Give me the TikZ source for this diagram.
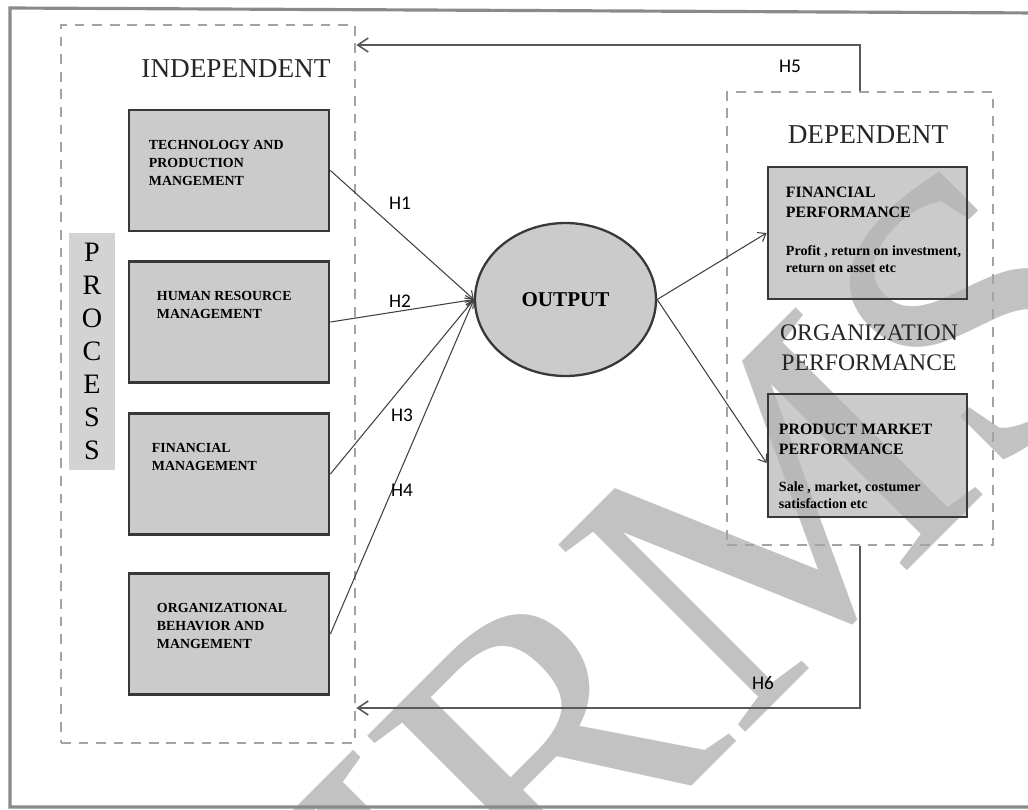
\documentclass[tikz,border=0pt]{standalone}
\usepackage{fontspec}
\setmainfont{Liberation Serif}
\newfontfamily\hfont{Carlito}
\usetikzlibrary{calc,fit,shapes.geometric,arrows.meta}

\definecolor{boxgray}{HTML}{B5B5B5}
\definecolor{edgegray}{HTML}{383838}
\definecolor{dashgray}{HTML}{A3A3A3}
\definecolor{markgray}{HTML}{C2C2C2}
\definecolor{framegray}{HTML}{8A8A8A}

\begin{document}
\begin{tikzpicture}[x=0.02cm, y=-0.02cm,
  dashbox/.style={draw=dashgray, line width=1.5pt, dash pattern=on 5.5pt off 4.5pt, inner sep=0pt},
  pbox/.style={draw=edgegray, line width=1.6pt, fill=boxgray, fill opacity=0.7, minimum width=4cm, minimum height=2.42cm, inner sep=0pt},
  rbox/.style={pbox, minimum width=3.98cm},
  ptext/.style={anchor=north west, align=left, inner sep=0pt, font=\bfseries\fontsize{7.9}{10.3}\selectfont},
  rtext/.style={anchor=north west, align=left, inner sep=0pt, font=\bfseries\fontsize{9}{11.4}\selectfont},
  dtext/.style={anchor=north west, align=left, inner sep=0pt, font=\bfseries\fontsize{8}{9.7}\selectfont},
  head/.style={align=center, inner sep=0pt, font=\fontsize{15.5}{17}\selectfont, text=black!85},
  hlab/.style={inner sep=0pt, font=\hfont\fontsize{11}{12}\selectfont},
  link/.style={draw=black!75, line width=0.6pt, -{Straight Barb[length=4pt,width=6pt]}},
  back/.style={draw=black!65, line width=0.9pt, -{Straight Barb[length=6pt,width=8pt]}}]

\useasboundingbox (0,0) rectangle (1028,809);

% watermark
\node[rotate=45, anchor=base west, inner sep=0pt, text=markgray, font=\fontsize{230}{230}\selectfont] (mark) at (340,1138) {IJRMS};

% frame
\draw[framegray, line width=1.8pt] (1040,807) -- (10,807) -- (10,8) -- (1040,13);

% groups
\node[dashbox, fit={(61,25) (355,743)}] (indep) {};
\node[dashbox, fit={(727,92) (993,545)}] (dep) {};

\node[head] (indeplab) at (236,69) {INDEPENDENT};
\node[head] (deplab) at (868,135) {DEPENDENT};
\node[head, font=\fontsize{13.5}{17}\selectfont] (orglab) at (869,348) {ORGANIZATION\\PERFORMANCE};

\node[fill=boxgray!60, minimum width=0.92cm, minimum height=4.74cm, inner sep=0pt, align=center,
  font=\fontsize{16}{18.8}\selectfont] (proc) at (92,351.5) {P\\R\\O\\C\\E\\S\\S};

% process boxes
\node[pbox] (tech) at (229,170.5) {};
\node[pbox] (hrm) at (229,322) {};
\node[pbox] (fin) at (229,474) {};
\node[pbox] (obm) at (229,634) {};
\node[ptext] (techtx) at ($(tech.north west)+(21,31)$) {TECHNOLOGY AND\\PRODUCTION\\MANGEMENT};
\node[ptext] (hrmtx) at ($(hrm.north west)+(29,31)$) {HUMAN RESOURCE\\MANAGEMENT};
\node[ptext] (fintx) at ($(fin.north west)+(24,31)$) {FINANCIAL\\MANAGEMENT};
\node[ptext] (obmtx) at ($(obm.north west)+(29,31)$) {ORGANIZATIONAL\\BEHAVIOR AND\\MANGEMENT};

\node[ellipse, draw=edgegray, line width=1.3pt, fill=boxgray!70, minimum width=3.62cm, minimum height=3.06cm,
  inner sep=0pt, font=\bfseries\fontsize{12}{14}\selectfont] (output) at (565.5,299.5) {OUTPUT};

% performance boxes
\node[rbox, minimum height=2.64cm] (finperf) at (867.5,233) {};
\node[rbox, minimum height=2.46cm] (mktperf) at (867.5,455.5) {};
\node[rtext] (finperfhd) at ($(finperf.north west)+(19,21)$) {FINANCIAL\\PERFORMANCE};
\node[dtext] (finperfds) at ($(finperf.north west)+(19,80)$) {Profit , return on investment,\\return on asset etc};
\node[rtext] (mktperfhd) at ($(mktperf.north west)+(12,31)$) {PRODUCT MARKET\\PERFORMANCE};
\node[dtext] (mktperfds) at ($(mktperf.north west)+(12,89)$) {Sale , market, costumer\\satisfaction etc};

% hypotheses
\draw[link] (tech.east) -- (output.west);
\draw[link] (hrm.east) -- (output.west);
\draw[link] (fin.east) -- (output.west);
\draw[link] (obm.east) -- (output.west);
\draw[link] (output.east) -- (finperf.west);
\draw[link] (output.east) -- ([yshift=-0.15cm]mktperf.west);

\coordinate (h5c) at (860,45);
\coordinate (h6c) at (860,708);
\draw[back] (dep.north) -- (h5c) -- (h5c -| indep.east);
\draw[back] (dep.south) -- (h6c) -- (h6c -| indep.east);

\node[hlab] (h1) at (400,203) {H1};
\node[hlab] (h2) at (400,301) {H2};
\node[hlab] (h3) at (402,415) {H3};
\node[hlab] (h4) at (402,490) {H4};
\node[hlab] (h5) at (790,66) {H5};
\node[hlab] (h6) at (763,683) {H6};
\end{tikzpicture}
\end{document}
